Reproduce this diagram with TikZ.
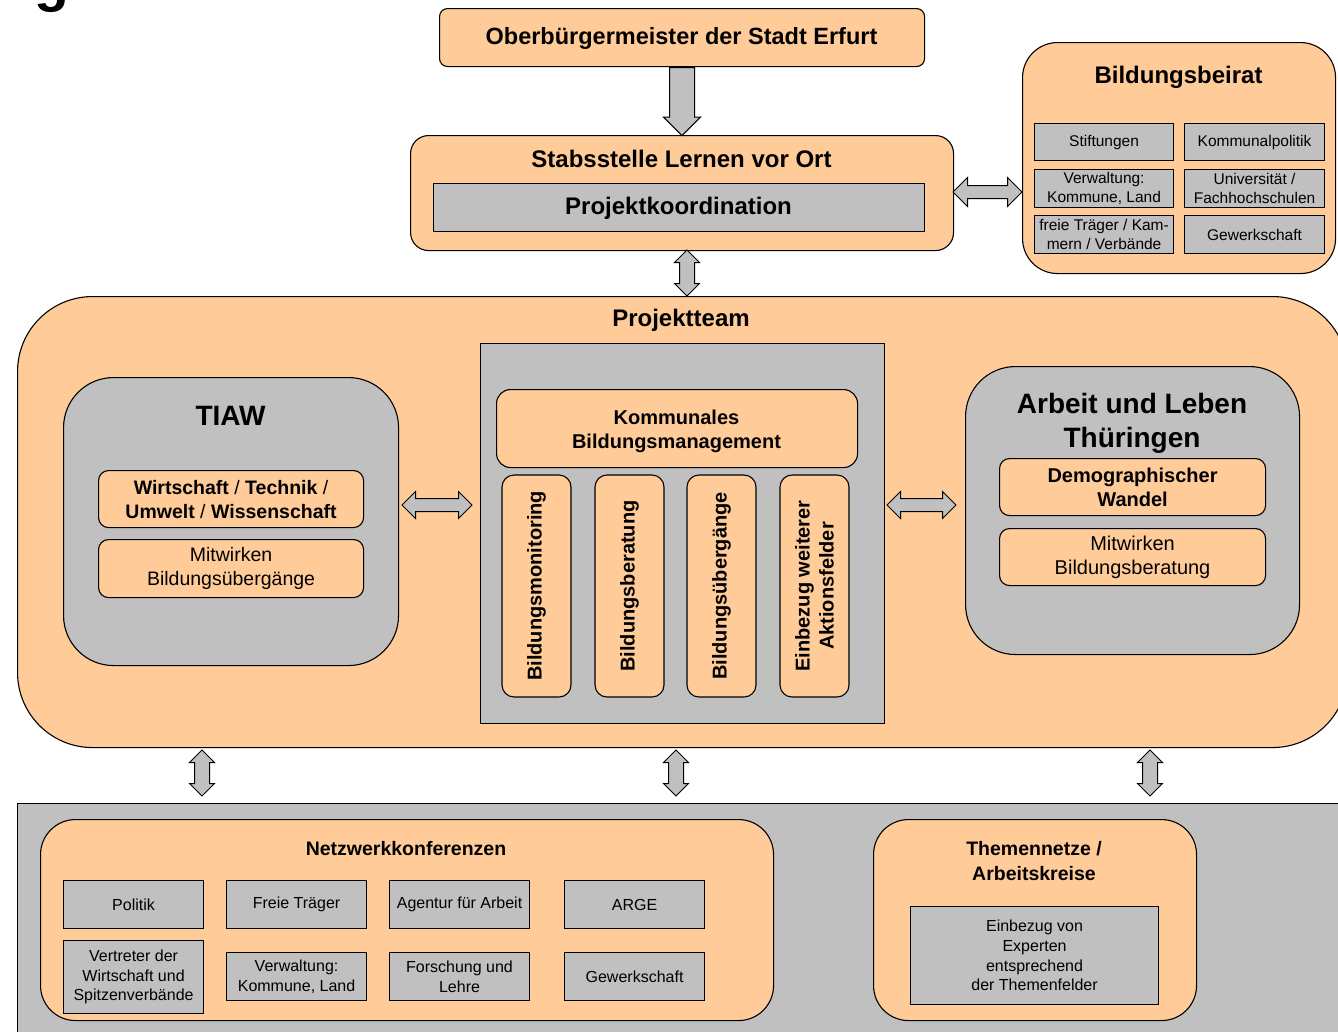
\documentclass[tikz,border=0pt]{standalone}
\usepackage{fontspec}
\setmainfont{Liberation Sans}
\usetikzlibrary{shapes.arrows,calc}
\definecolor{orC}{HTML}{FFCC99}
\definecolor{grC}{HTML}{C0C0C0}
\newcommand\myfs[2]{\fontsize{#1}{#2}\selectfont}
\begin{document}
\begin{tikzpicture}[x=1pt,y=-1pt,
  base/.style={draw=black, line width=1.1pt, inner sep=0pt, align=center, text=black},
  orbox/.style={base, fill=orC, rounded corners=#1},
  orbox/.default=10pt,
  grbox/.style={base, fill=grC, rounded corners=#1},
  grbox/.default=10pt,
  grrect/.style={base, fill=grC},
  label/.style={inner sep=0pt, align=center, text=black},
  darr/.style 2 args={double arrow, draw=black, fill=grC, line width=1pt, inner xsep=0pt, inner ysep=#2, minimum width=0pt, double arrow head extend=#1},
  sarr/.style 2 args={single arrow, draw=black, fill=grC, line width=1pt, inner xsep=0pt, inner ysep=#2, minimum width=0pt, single arrow head extend=#1},
  hbig/.style={font=\bfseries\myfs{24}{29}},
  hhuge/.style={font=\bfseries\myfs{28}{34}},
  hmid/.style={font=\bfseries\myfs{20}{24}},
  tmid/.style={font=\myfs{20}{24}},
  tsmall/.style={font=\myfs{15.5}{19}},
  tnet/.style={font=\myfs{16}{19.6}},
]
\useasboundingbox (0,0) rectangle (1338,1031);
\clip (0,0) rectangle (1338,1031);

% cut-off heading fragment
\node[label, anchor=base, font=\bfseries\myfs{57}{60}] (frag) at (52,0) {g};

% top
\node[orbox=8pt, anchor=north west, minimum width=485, minimum height=58] (ober) at (439,8) {};
\node[label, font=\bfseries\myfs{23.5}{28}] (obert) at (681.5,38) {Oberbürgermeister der Stadt Erfurt};

\node[orbox=18pt, anchor=north west, minimum width=543, minimum height=115] (stab) at (410,135) {};
\node[label, hbig] (stabt) at (681.5,159) {Stabsstelle Lernen vor Ort};
\node[grrect, anchor=north west, minimum width=491, minimum height=48] (pk) at (433,183) {};
\node[label, hbig] (pkt) at (678.5,208) {Projektkoordination};

\node[sarr={6pt}{12pt}, rotate=-90, anchor=tail, minimum height=68] (a1) at (ober.south) {};

% Bildungsbeirat
\node[orbox=35pt, anchor=north west, minimum width=313, minimum height=231] (beirat) at (1022,42) {};
\node[label, hbig] (beiratt) at (1178.5,77) {Bildungsbeirat};
\node[grrect, anchor=north west, minimum width=139, minimum height=37, tsmall] (b1) at (1034,123) {Stiftungen};
\node[grrect, anchor=north west, minimum width=140, minimum height=37, tsmall] (b2) at (1184,123) {Kommunalpolitik};
\node[grrect, anchor=north west, minimum width=139, minimum height=38, tsmall] (b3) at (1034,169) {Verwaltung:\\Kommune, Land};
\node[grrect, anchor=north west, minimum width=140, minimum height=38, tsmall] (b4) at (1184,169) {Universität /\\Fachhochschulen};
\node[grrect, anchor=north west, minimum width=139, minimum height=38, tsmall] (b5) at (1034,215) {freie Träger / Kam-\\mern / Verbände};
\node[grrect, anchor=north west, minimum width=140, minimum height=38, tsmall] (b6) at (1184,215) {Gewerkschaft};

\node[darr={8pt}{6pt}, minimum height=69] (a2) at (987.5,192) {};

% Projektteam
\node[orbox=75pt, anchor=north west, minimum width=1330, minimum height=451] (team) at (17,296) {};
\node[label, hbig] (teamt) at (681,320) {Projektteam};

\node[darr={5pt}{7pt}, rotate=90, minimum height=46] (a3) at (687,273) {};

% TIAW
\node[grbox=50pt, anchor=north west, minimum width=335, minimum height=288] (tiaw) at (63,377) {};
\node[label, hhuge] (tiawt) at (230.5,416) {TIAW};
\node[orbox=10pt, anchor=north west, minimum width=265, minimum height=57, font=\myfs{19.5}{24}] (wtuw) at (98,470) {\textbf{Wirtschaft} / \textbf{Technik} /\\\textbf{Umwelt} / \textbf{Wissenschaft}};
\node[orbox=10pt, anchor=north west, minimum width=265, minimum height=58, font=\myfs{19.5}{24}] (mbu) at (98,539) {Mitwirken\\Bildungsübergänge};

% centre
\node[grrect, anchor=north west, minimum width=404, minimum height=380] (kbmc) at (480,343) {};
\node[orbox=14pt, anchor=north west, minimum width=361, minimum height=78] (kbm) at (496,389) {};
\node[label, hmid] (kbmt) at (676.5,431) {Kommunales\\Bildungsmanagement};
\node[orbox=12pt, rotate=90, minimum width=222, minimum height=69, hmid] (v1) at (536.5,586) {Bildungsmonitoring};
\node[orbox=12pt, rotate=90, minimum width=222, minimum height=69, hmid] (v2) at (629.5,586) {Bildungsberatung};
\node[orbox=12pt, rotate=90, minimum width=222, minimum height=69, hmid] (v3) at (721.5,586) {Bildungsübergänge};
\node[orbox=12pt, rotate=90, minimum width=222, minimum height=69, hmid] (v4) at (814.5,586) {Einbezug weiterer\\Aktionsfelder};

% Arbeit und Leben
\node[grbox=50pt, anchor=north west, minimum width=334, minimum height=288] (aul) at (965,366) {};
\node[label, hhuge] (ault) at (1132,423) {Arbeit und Leben\\Thüringen};
\node[orbox=10pt, anchor=north west, minimum width=266, minimum height=57, hmid] (demo) at (999,458) {Demographischer\\Wandel};
\node[orbox=10pt, anchor=north west, minimum width=266, minimum height=57, tmid] (mbb) at (999,528) {Mitwirken\\Bildungsberatung};

\node[darr={7pt}{6pt}, minimum height=70] (a4) at (437,505) {};
\node[darr={7pt}{6pt}, minimum height=69] (a5) at (921.5,505) {};

% bottom band
\node[grrect, anchor=north west, minimum width=1340, minimum height=240] (band) at (17,803) {};

\node[darr={5pt}{7pt}, rotate=90, minimum height=46] (a6) at (202,773) {};
\node[darr={5pt}{7pt}, rotate=90, minimum height=46] (a7) at (676,773) {};
\node[darr={5pt}{7pt}, rotate=90, minimum height=46] (a8) at (1150,773) {};

% Netzwerkkonferenzen
\node[orbox=35pt, anchor=north west, minimum width=733, minimum height=201] (netz) at (40,819) {};
\node[label, font=\bfseries\myfs{19.5}{24}] (netzt) at (406,849) {Netzwerkkonferenzen};
\node[grrect, anchor=north west, minimum width=140, minimum height=48, tnet] (n1) at (63,880) {Politik};
\node[grrect, anchor=north west, minimum width=140, minimum height=48, tnet] (n2) at (226,880) {Freie Träger};
\node[grrect, anchor=north west, minimum width=140, minimum height=48, tnet] (n3) at (389,880) {Agentur für Arbeit};
\node[grrect, anchor=north west, minimum width=140, minimum height=48, tnet] (n4) at (564,880) {ARGE};
\node[grrect, anchor=north west, minimum width=140, minimum height=73, tnet] (n5) at (63,940) {Vertreter der\\Wirtschaft und\\Spitzenverbände};
\node[grrect, anchor=north west, minimum width=140, minimum height=48, tnet] (n6) at (226,952) {Verwaltung:\\Kommune, Land};
\node[grrect, anchor=north west, minimum width=140, minimum height=48, tnet] (n7) at (389,952) {Forschung und\\Lehre};
\node[grrect, anchor=north west, minimum width=140, minimum height=48, tnet] (n8) at (564,952) {Gewerkschaft};

% Themennetze
\node[orbox=35pt, anchor=north west, minimum width=323, minimum height=201] (them) at (873,819) {};
\node[label, font=\bfseries\myfs{19.5}{25}] (themt) at (1034,861.5) {Themennetze /\\Arbeitskreise};
\node[grrect, anchor=north west, minimum width=248, minimum height=98, tnet] (exp) at (910,906) {Einbezug von\\Experten\\entsprechend\\der Themenfelder};
\end{tikzpicture}
\end{document}
